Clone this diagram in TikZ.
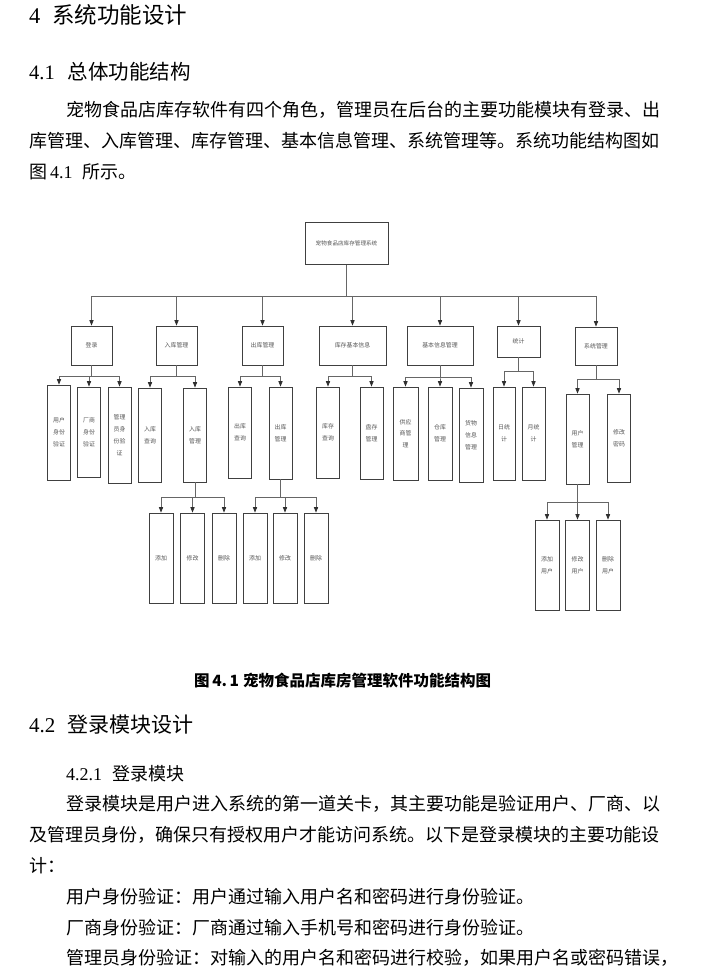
\documentclass[tikz,border=0pt]{standalone}
\usepackage{fontspec}
\setmainfont{Noto Sans CJK SC}
\newfontfamily\lat{Liberation Serif}
\usetikzlibrary{positioning, arrows.meta}
\XeTeXlinebreaklocale "zh"
\XeTeXlinebreakskip=0pt plus 1pt minus 1.5pt
\definecolor{boxgray}{HTML}{404040}
\definecolor{linegray}{HTML}{666666}
\definecolor{tipgray}{HTML}{2E2E2E}
\definecolor{txtgray}{HTML}{555555}
\tikzset{
  box/.style={draw=boxgray, line width=0.8pt, inner sep=0pt, align=center,
    text=txtgray, font=\fontsize{5.9}{11.8}\selectfont},
  topbox/.style={box, minimum width=83pt, minimum height=42pt, font=\fontsize{5.6}{7}\selectfont},
  modbox/.style={box, minimum width=41pt, minimum height=39pt},
  leafbox/.style={box, minimum width=23pt, minimum height=93pt},
  link/.style={draw=linegray, line width=0.8pt, -{Triangle[length=5.5pt,width=4.2pt,color=tipgray]}},
  textline/.style={anchor=base west, inner sep=0pt, font=\fontsize{18}{18}\selectfont},
}
\begin{document}
\begin{tikzpicture}[x=1pt, y=-1pt]
\fill[white] (0,0) rectangle (706,976);

% headings and body text
\node[textline, font=\fontsize{22.5}{22.5}\selectfont] (sec4) at (29,23.5) {\makebox[23pt][l]{\lat 4}系统功能设计};
\node[textline, font=\fontsize{20.5}{20.5}\selectfont] (sec41) at (29,80) {\makebox[38.5pt][l]{\lat 4.1}总体功能结构};
\node[textline] (para1a) at (66,117) {\makebox[594pt][s]{宠物食品店库存软件有四个角色，管理员在后台的主要功能模块有登录、出}};
\node[textline] (para1b) at (29,148) {\makebox[631pt][s]{库管理、入库管理、库存管理、基本信息管理、系统管理等。系统功能结构图如}};
\node[textline] (para1c) at (29,179) {图\hspace{3pt}{\lat 4.1}\hspace{10pt}所示。};

% structure chart
\node[topbox] (root) at (346.5,243.5) {宠物食品店库存管理系统};

\node[modbox] (m1) at (91.5,345.5) {登录};
\node[modbox] (m2) at (176.5,345.5) {入库管理};
\node[modbox] (m3) at (262.5,345.5) {出库管理};
\node[modbox, minimum width=67pt] (m4) at (352.5,345.5) {库存基本信息};
\node[modbox, minimum width=66pt] (m5) at (440,345.5) {基本信息管理};
\node[modbox, minimum width=43pt, minimum height=31pt] (m6) at (518.5,341.5) {统计};
\node[modbox, minimum width=42pt, minimum height=38pt] (m7) at (596,346) {系统管理};

\node[leafbox, minimum height=95pt] (a1) at (59,432.5) {用户\\身份\\验证};
\node[leafbox, minimum height=90pt] (a2) at (89,432) {厂商\\身份\\验证};
\node[leafbox, minimum height=96pt] (a3) at (119.5,435) {管理\\员身\\份验\\证};
\node[leafbox, minimum height=94pt] (b1) at (150,435) {入库\\查询};
\node[leafbox, minimum height=94pt] (b2) at (195,435) {入库\\管理};
\node[leafbox, minimum height=91pt] (c1) at (240,432.5) {出库\\查询};
\node[leafbox, minimum height=92pt] (c2) at (280.5,433) {出库\\管理};
\node[leafbox, minimum height=91pt] (d1) at (328,432.5) {库存\\查询};
\node[leafbox, minimum height=92pt] (d2) at (371.5,433) {盘存\\管理};
\node[leafbox, minimum width=25pt] (e1) at (405.5,433.5) {供应\\商管\\理};
\node[leafbox, minimum width=24pt] (e2) at (440,433.5) {仓库\\管理};
\node[leafbox, minimum width=24pt, minimum height=94pt] (e3) at (471,435) {货物\\信息\\管理};
\node[leafbox, minimum width=22pt] (f1) at (504,433.5) {日统\\计};
\node[leafbox] (f2) at (533.5,433.5) {月统\\计};
\node[leafbox, minimum height=90pt] (g1) at (577.5,439) {用户\\管理};
\node[leafbox, minimum height=88pt] (g2) at (619,438) {修改\\密码};

\node[leafbox, minimum width=24pt, minimum height=90pt] (h1) at (161,558) {添加};
\node[leafbox, minimum width=24pt, minimum height=90pt] (h2) at (192.5,558) {修改};
\node[leafbox, minimum width=24pt, minimum height=90pt] (h3) at (224,558) {删除};
\node[leafbox, minimum width=24pt, minimum height=90pt] (i1) at (255,558) {添加};
\node[leafbox, minimum width=24pt, minimum height=90pt] (i2) at (285,558) {修改};
\node[leafbox, minimum width=24pt, minimum height=90pt] (i3) at (316,558) {删除};
\node[leafbox, minimum width=24pt, minimum height=90pt] (k1) at (547,565) {添加\\用户};
\node[leafbox, minimum width=24pt, minimum height=90pt] (k2) at (577.5,565) {修改\\用户};
\node[leafbox, minimum width=24pt, minimum height=90pt] (k3) at (608,565) {删除\\用户};

% connectors
\foreach \i in {1,...,7}
  \draw[link] (root.south) -- ++(0,31.5) -| (m\i.north);
\foreach \c in {a1,a2,a3} \draw[link] (m1.south) -- ++(0,11) -| (\c.north);
\foreach \c in {b1,b2} \draw[link] (m2.south) -- ++(0,11) -| (\c.north);
\foreach \c in {c1,c2} \draw[link] (m3.south) -- ++(0,11) -| (\c.north);
\foreach \c in {d1,d2} \draw[link] (m4.south) -- ++(0,11) -| (\c.north);
\foreach \c in {e1,e2,e3} \draw[link] (m5.south) -- ++(0,12) -| (\c.north);
\foreach \c in {f1,f2} \draw[link] (m6.south) -- ++(0,14) -| (\c.north);
\foreach \c in {g1,g2} \draw[link] (m7.south) -- ++(0,14) -| (\c.north);
\foreach \c in {h1,h2,h3} \draw[link] (b2.south) -- ++(0,15) -| (\c.north);
\foreach \c in {i1,i2,i3} \draw[link] (c2.south) -- ++(0,18) -| (\c.north);
\foreach \c in {k1,k2,k3} \draw[link] (g1.south) -- ++(0,18) -| (\c.north);

% caption and following section
\node[textline, font=\fontsize{15.5}{15.5}\selectfont\bfseries] (caption) at (194,686) {图\,4.\,1\hspace{4pt}宠物食品店库房管理软件功能结构图};
\node[textline, font=\fontsize{21}{21}\selectfont] (sec42) at (29,732) {\makebox[38.5pt][l]{\lat 4.2}登录模块设计};
\node[textline] (sec421) at (66,780) {\makebox[46pt][l]{\lat 4.2.1}登录模块};
\node[textline] (para2a) at (66,810) {\makebox[594pt][s]{登录模块是用户进入系统的第一道关卡，其主要功能是验证用户、厂商、以}};
\node[textline] (para2b) at (29,841) {\makebox[631pt][s]{及管理员身份，确保只有授权用户才能访问系统。以下是登录模块的主要功能设}};
\node[textline] (para2c) at (29,872) {计：};
\node[textline] (para3) at (66,903) {用户身份验证：用户通过输入用户名和密码进行身份验证。};
\node[textline] (para4) at (66,934) {厂商身份验证：厂商通过输入手机号和密码进行身份验证。};
\node[textline] (para5) at (66,964) {\makebox[591pt][s]{管理员身份验证：对输入的用户名和密码进行校验，如果用户名或密码错误，}};
\end{tikzpicture}
\end{document}
